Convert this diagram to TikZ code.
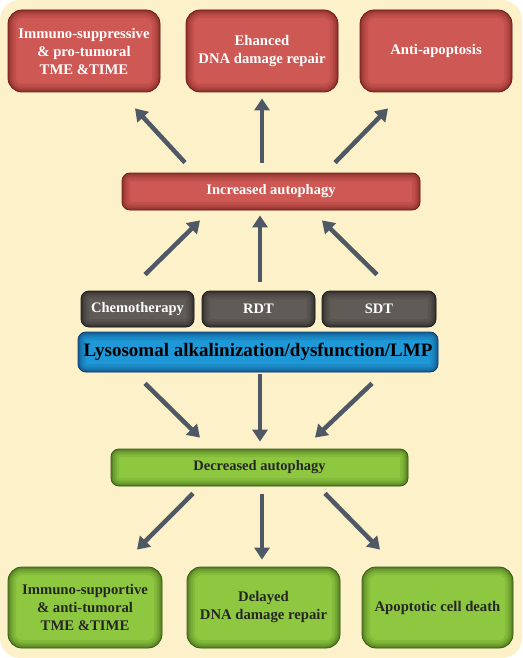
\documentclass[tikz,border=0pt]{standalone}
\usepackage{fontspec}
\setmainfont{Liberation Serif}
\usetikzlibrary{arrows.meta}
\definecolor{bgyel}{RGB}{253,241,201}
\definecolor{redf}{RGB}{205,88,84}
\definecolor{redd}{RGB}{110,30,25}
\definecolor{grayf}{RGB}{95,91,87}
\definecolor{grayd}{RGB}{30,28,26}
\definecolor{bluef}{RGB}{30,152,214}
\definecolor{blued}{RGB}{15,60,110}
\definecolor{greenf}{RGB}{142,200,64}
\definecolor{greend}{RGB}{55,90,20}
\definecolor{arrc}{RGB}{78,89,101}
\tikzset{
  x=1pt,y=1pt,
  shadebox/.style n args={3}{rounded corners=#3, draw=#2, line width=0.8pt, fill=#1,
    inner sep=0pt, align=center,
    path picture={\foreach \w/\o in {16/0.12,11/0.15,7/0.2,3.5/0.3}{
      \draw[line width=\w pt, draw=#2, opacity=\o, rounded corners=#3]
        (path picture bounding box.south west) rectangle (path picture bounding box.north east);}}},
  redbox/.style={shadebox={redf}{redd}{14pt}, text=white},
  redbar/.style={shadebox={redf}{redd}{8pt}, text=white},
  graybox/.style={shadebox={grayf}{grayd}{8pt}, text=white},
  bluebox/.style={shadebox={bluef}{blued}{8pt}, text=black},
  greenbar/.style={shadebox={greenf}{greend}{8pt}, text=black!85},
  greenbox/.style={shadebox={greenf}{greend}{14pt}, text=black!85},
  bigtxt/.style={font=\bfseries\fontsize{14.7}{18}\selectfont},
  midtxt/.style={font=\bfseries\fontsize{14.5}{17}\selectfont},
  arr/.style={draw=arrc, line width=4.5pt, -{Triangle[width=15pt,length=12pt]}},
}
\begin{document}
\begin{tikzpicture}
\fill[white] (0,0) rectangle (522,-658);
\useasboundingbox (0,0) rectangle (522,-658);
\fill[bgyel, rounded corners=20pt] (0,0) rectangle (522,-658);

% top red boxes
\node[redbox, bigtxt, minimum width=152pt, minimum height=82pt] (r1) at (84,-51) {Immuno-suppressive\\\& pro-tumoral\\TME \&TIME};
\node[redbox, bigtxt, minimum width=152pt, minimum height=82pt] (r2) at (262,-51) {Ehanced\\DNA damage repair};
\node[redbox, bigtxt, minimum width=152pt, minimum height=82pt] (r3) at (436,-51) {Anti-apoptosis};

\node[redbar, midtxt, minimum width=298pt, minimum height=37pt] (inc) at (271,-191.5) {Increased autophagy};

\node[graybox, midtxt, minimum width=113pt, minimum height=36pt] (chemo) at (137.5,-309) {Chemotherapy};
\node[graybox, midtxt, minimum width=113pt, minimum height=36pt] (rdt) at (258.5,-309) {RDT};
\node[graybox, midtxt, minimum width=114pt, minimum height=36pt] (sdt) at (379,-309) {SDT};

\node[bluebox, font=\bfseries\fontsize{19}{22}\selectfont, minimum width=360pt, minimum height=40pt] (lys) at (258,-352) {Lysosomal alkalinization/dysfunction/LMP};

\node[greenbar, midtxt, minimum width=297pt, minimum height=37pt] (dec) at (259.5,-467.5) {Decreased autophagy};

\node[greenbox, bigtxt, minimum width=154pt, minimum height=81pt] (g1) at (85,-607.5) {Immuno-supportive\\\& anti-tumoral\\TME \&TIME};
\node[greenbox, bigtxt, minimum width=153pt, minimum height=81pt] (g2) at (263.5,-607.5) {Delayed\\DNA damage repair};
\node[greenbox, bigtxt, minimum width=151pt, minimum height=81pt] (g3) at (437.5,-607.5) {Apoptotic cell death};

% arrows: increased -> top
\draw[arr] ([xshift=-86pt,yshift=10pt]inc.north) -- ([xshift=51pt,yshift=-16pt]r1.south);
\draw[arr] ([xshift=-9pt,yshift=10pt]inc.north) -- ([yshift=-6pt]r2.south);
\draw[arr] ([xshift=64pt,yshift=10pt]inc.north) -- ([xshift=-48pt,yshift=-16pt]r3.south);
% treatments -> increased
\draw[arr] ([xshift=7.5pt,yshift=16pt]chemo.north) -- ([xshift=-71pt,yshift=-10pt]inc.south);
\draw[arr] ([xshift=1.5pt,yshift=9pt]rdt.north) -- ([xshift=-11pt,yshift=-5pt]inc.south);
\draw[arr] ([xshift=-2pt,yshift=16pt]sdt.north) -- ([xshift=51pt,yshift=-10pt]inc.south);
% lysosomal -> decreased
\draw[arr] ([xshift=-113pt,yshift=-11pt]lys.south) -- ([xshift=-59.5pt,yshift=11pt]dec.north);
\draw[arr] ([xshift=2pt,yshift=-2pt]lys.south) -- ([xshift=0.5pt,yshift=7pt]dec.north);
\draw[arr] ([xshift=114pt,yshift=-11pt]lys.south) -- ([xshift=55.5pt,yshift=11pt]dec.north);
% decreased -> bottom
\draw[arr] ([xshift=-66.5pt,yshift=-7pt]dec.south) -- ([xshift=52pt,yshift=17pt]g1.north);
\draw[arr] ([xshift=2.5pt,yshift=-8pt]dec.south) -- ([xshift=-1.5pt,yshift=7pt]g2.north);
\draw[arr] ([xshift=65.5pt,yshift=-7pt]dec.south) -- ([xshift=-57.5pt,yshift=17pt]g3.north);
\end{tikzpicture}
\end{document}
